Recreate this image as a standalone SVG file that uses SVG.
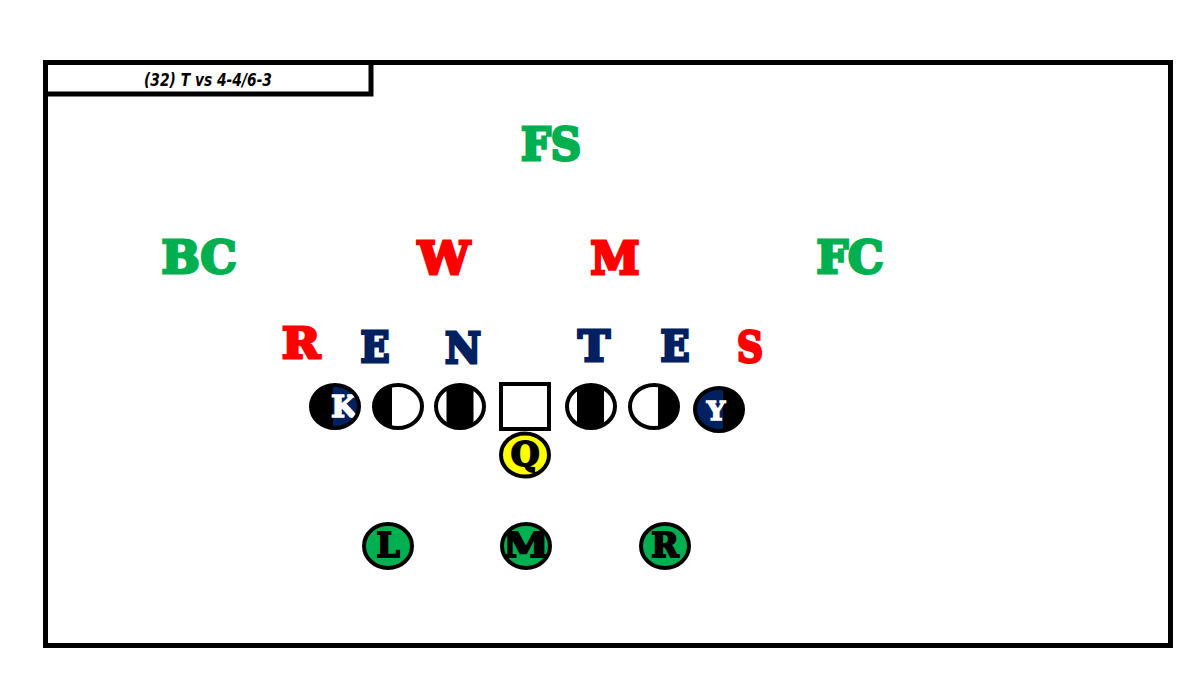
<svg xmlns="http://www.w3.org/2000/svg" width="1200" height="675" viewBox="0 0 1200 675">
<style>
.lbl{font-family:"DejaVu Serif","Liberation Serif",serif;font-weight:bold;text-anchor:middle;stroke-width:3;stroke-linejoin:miter}
.g{fill:#00B050;stroke:#00B050}.r{fill:#FF0000;stroke:#FF0000}.n{fill:#002060;stroke:#002060}
.big{font-size:44px}
.mid{font-size:42px}
.in{font-family:"DejaVu Serif","Liberation Serif",serif;font-weight:bold;text-anchor:middle;font-size:33px;fill:#000;stroke:#000;stroke-width:2}
.ring{fill:none;stroke:#000;stroke-width:4}
.title{font-family:"DejaVu Sans","Liberation Sans",sans-serif;font-stretch:condensed;font-style:italic;font-weight:bold;font-size:17px;text-anchor:middle}
.wt{font-family:"DejaVu Serif","Liberation Serif",serif;font-weight:bold;fill:#fff;stroke:#fff;stroke-width:1.5;text-anchor:middle}
</style>
<defs>
<clipPath id="oval"><ellipse cx="0" cy="0" rx="24" ry="21.5"/></clipPath>
<clipPath id="ovalB"><ellipse cx="0" cy="0" rx="24" ry="22"/></clipPath>
</defs>
<rect width="1200" height="675" fill="#fff"/>
<g id="frame">
<rect x="45.5" y="62.5" width="1125" height="583" fill="none" stroke="#000" stroke-width="5"/>
<rect x="45.5" y="62.5" width="325.5" height="31.5" fill="#fff" stroke="#000" stroke-width="5"/>
<text class="title" x="208" y="86" textLength="128" lengthAdjust="spacingAndGlyphs">(32) T vs 4-4/6-3</text>
</g>
<g id="defense">
<g id="FS"><text class="lbl g big" x="551" y="160" textLength="60" lengthAdjust="spacingAndGlyphs">FS</text></g>
<g id="BC"><text class="lbl g big" x="199" y="273" textLength="75" lengthAdjust="spacingAndGlyphs">BC</text></g>
<g id="W"><text class="lbl r big" x="444" y="274" textLength="52" lengthAdjust="spacingAndGlyphs">W</text></g>
<g id="Mlb"><text class="lbl r big" x="615" y="274" textLength="49" lengthAdjust="spacingAndGlyphs">M</text></g>
<g id="FC"><text class="lbl g big" x="850" y="273" textLength="67" lengthAdjust="spacingAndGlyphs">FC</text></g>
<g id="R"><text class="lbl r mid" x="301" y="358" textLength="38" lengthAdjust="spacingAndGlyphs">R</text></g>
<g id="E1"><text class="lbl n mid" x="375" y="362" textLength="29" lengthAdjust="spacingAndGlyphs">E</text></g>
<g id="N"><text class="lbl n mid" x="463" y="363" textLength="36" lengthAdjust="spacingAndGlyphs">N</text></g>
<g id="T"><text class="lbl n mid" x="594" y="361" textLength="32" lengthAdjust="spacingAndGlyphs">T</text></g>
<g id="E2"><text class="lbl n mid" x="675" y="361" textLength="29" lengthAdjust="spacingAndGlyphs">E</text></g>
<g id="S"><text class="lbl r mid" x="750" y="362" textLength="26" lengthAdjust="spacingAndGlyphs">S</text></g>
</g>
<g id="offense">
<g id="K" transform="translate(335,406.5)">
<g clip-path="url(#oval)">
<rect x="-26" y="-26" width="52" height="52" fill="#002060"/>
<rect x="-26" y="-26" width="24" height="52" fill="#000"/>
<text class="wt" x="9" y="10" font-size="30">K</text>
</g>
<ellipse class="ring" cx="0" cy="0" rx="24" ry="21.5"/>
</g>
<g id="LT" transform="translate(398,406.5)">
<g clip-path="url(#oval)"><rect x="-26" y="-26" width="52" height="52" fill="#fff"/><rect x="-26" y="-26" width="20" height="52" fill="#000"/></g>
<ellipse class="ring" cx="0" cy="0" rx="24" ry="21.5"/>
</g>
<g id="LG" transform="translate(460,406.5)">
<g clip-path="url(#oval)"><rect x="-26" y="-26" width="52" height="52" fill="#fff"/><rect x="-13.5" y="-26" width="27" height="52" fill="#000"/></g>
<ellipse class="ring" cx="0" cy="0" rx="24" ry="21.5"/>
</g>
<g id="C"><rect x="501" y="384" width="48" height="45" fill="#fff" stroke="#000" stroke-width="4"/></g>
<g id="RG" transform="translate(591,406.5)">
<g clip-path="url(#oval)"><rect x="-26" y="-26" width="52" height="52" fill="#fff"/><rect x="-14" y="-26" width="27" height="52" fill="#000"/></g>
<ellipse class="ring" cx="0" cy="0" rx="24" ry="21.5"/>
</g>
<g id="RT" transform="translate(654,406.5)">
<g clip-path="url(#oval)"><rect x="-26" y="-26" width="52" height="52" fill="#fff"/><rect x="4" y="-26" width="24" height="52" fill="#000"/></g>
<ellipse class="ring" cx="0" cy="0" rx="24" ry="21.5"/>
</g>
<g id="Y" transform="translate(719,409.5)">
<g clip-path="url(#oval)">
<rect x="-26" y="-26" width="52" height="52" fill="#000"/>
<rect x="-26" y="-26" width="30" height="52" fill="#002060"/>
<text class="wt" x="-3" y="10" font-size="26">Y</text>
</g>
<ellipse class="ring" cx="0" cy="0" rx="24" ry="21.5"/>
</g>
<g id="Q" transform="translate(525,455)">
<ellipse cx="0" cy="0" rx="24" ry="21.5" fill="#FFFF00" stroke="#000" stroke-width="4"/>
<text class="in" x="0" y="11" font-size="30">Q</text>
</g>
<g id="L" transform="translate(388,546)">
<ellipse cx="0" cy="0" rx="24" ry="22" fill="#00B050" stroke="#000" stroke-width="4"/>
<text class="in" x="0" y="11">L</text>
</g>
<g id="M" transform="translate(526,546)">
<g clip-path="url(#ovalB)"><rect x="-26" y="-26" width="52" height="52" fill="#00B050"/><text class="in" x="0" y="11" textLength="46" lengthAdjust="spacingAndGlyphs">M</text></g>
<ellipse class="ring" cx="0" cy="0" rx="24" ry="22"/>
</g>
<g id="Rb" transform="translate(665,546)">
<ellipse cx="0" cy="0" rx="24" ry="22" fill="#00B050" stroke="#000" stroke-width="4"/>
<text class="in" x="0" y="11">R</text>
</g>
</g>
<g id="connectors"/>
</svg>
